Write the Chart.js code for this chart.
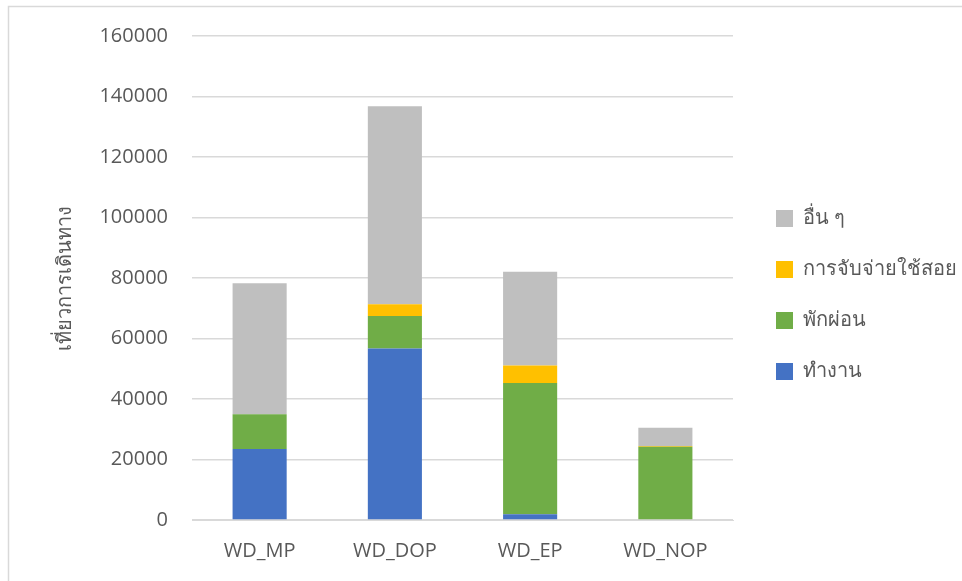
<!DOCTYPE html>
<html>
<head>
<meta charset="utf-8">
<script src="https://cdn.jsdelivr.net/npm/chart.js@4.4.1/dist/chart.umd.min.js"></script>
<style>
    html, body { margin: 0; padding: 0; background: #fff; }
    #wrap { width: 962px; height: 581px; position: relative; }
</style>
</head>
<body>
<div id="wrap"><canvas id="tripChart"></canvas></div>
<script>
const categories = ['WD_MP', 'WD_DOP', 'WD_EP', 'WD_NOP'];
const work = [23500, 56700, 1900, 0];
const leisure = [11500, 10700, 43400, 24200];
const shopping = [0, 3900, 5800, 300];
const other = [43300, 65500, 31000, 6000];
const yTicks = [0, 20000, 40000, 60000, 80000, 100000, 120000, 140000, 160000];

const textColor = '#595959';
const gridColor = '#d9d9d9';
const fontFamily = "'Open Sans', 'Noto Sans', sans-serif";

// thin frame along the top and left edge
const framePlugin = {
    id: 'frame',
    beforeDraw(chart) {
        const ctx = chart.ctx;
        ctx.save();
        ctx.strokeStyle = gridColor;
        ctx.lineWidth = 1.5;
        ctx.beginPath();
        ctx.moveTo(8.5, chart.height);
        ctx.lineTo(8.5, 6.5);
        ctx.lineTo(chart.width, 6.5);
        ctx.stroke();
        ctx.restore();
    }
};

// push the legend a little further away from the plot and up a bit
const legendShift = {
    id: 'legendShift',
    afterLayout(chart) {
        chart.legend.left += 12;
        chart.legend.right += 12;
        chart.legend.top -= 13;
        chart.legend.bottom -= 13;
    }
};

const ctx = document.getElementById('tripChart').getContext('2d');
const tripChart = new Chart(ctx, {
    type: 'bar',
    data: {
        labels: categories,
        datasets: [
            { label: 'ทำงาน', data: work, backgroundColor: '#4472C4' },
            { label: 'พักผ่อน', data: leisure, backgroundColor: '#70AD47' },
            { label: 'การจับจ่ายใช้สอย', data: shopping, backgroundColor: '#FFC000' },
            { label: 'อื่น ๆ', data: other, backgroundColor: '#BFBFBF' }
        ]
    },
    options: {
        responsive: true,
        maintainAspectRatio: false,
        animation: false,
        datasets: {
            bar: { categoryPercentage: 1, barPercentage: 0.4, borderWidth: 0 }
        },
        layout: { padding: { top: 35, right: 7, bottom: 0, left: 0 } },
        plugins: {
            tooltip: { enabled: false },
            legend: {
                position: 'right',
                reverse: true,
                labels: {
                    boxWidth: 17,
                    boxHeight: 17,
                    padding: 31,
                    color: textColor,
                    font: { family: fontFamily, size: 20 }
                }
            }
        },
        scales: {
            x: {
                stacked: true,
                grid: { display: false, drawTicks: false },
                border: { color: gridColor },
                ticks: { color: textColor, padding: 19, font: { family: fontFamily, size: 20 } },
                afterFit(scale) { scale.height = 61; }
            },
            y: {
                stacked: true,
                min: 0,
                max: 160000,
                afterBuildTicks(scale) { scale.ticks = yTicks.map(v => ({ value: v })); },
                grid: { color: gridColor, lineWidth: 1.5, drawTicks: false },
                border: { display: false },
                ticks: {
                    color: textColor,
                    padding: 24,
                    font: { family: fontFamily, size: 20 },
                    callback: v => String(v)
                },
                title: {
                    display: true,
                    text: 'เที่ยวการเดินทาง',
                    color: textColor,
                    padding: { top: 53, bottom: 0 },
                    font: { family: fontFamily, size: 20 }
                },
                afterFit(scale) { scale.width = 192; }
            }
        }
    },
    plugins: [framePlugin, legendShift]
});
</script>
</body>
</html>
